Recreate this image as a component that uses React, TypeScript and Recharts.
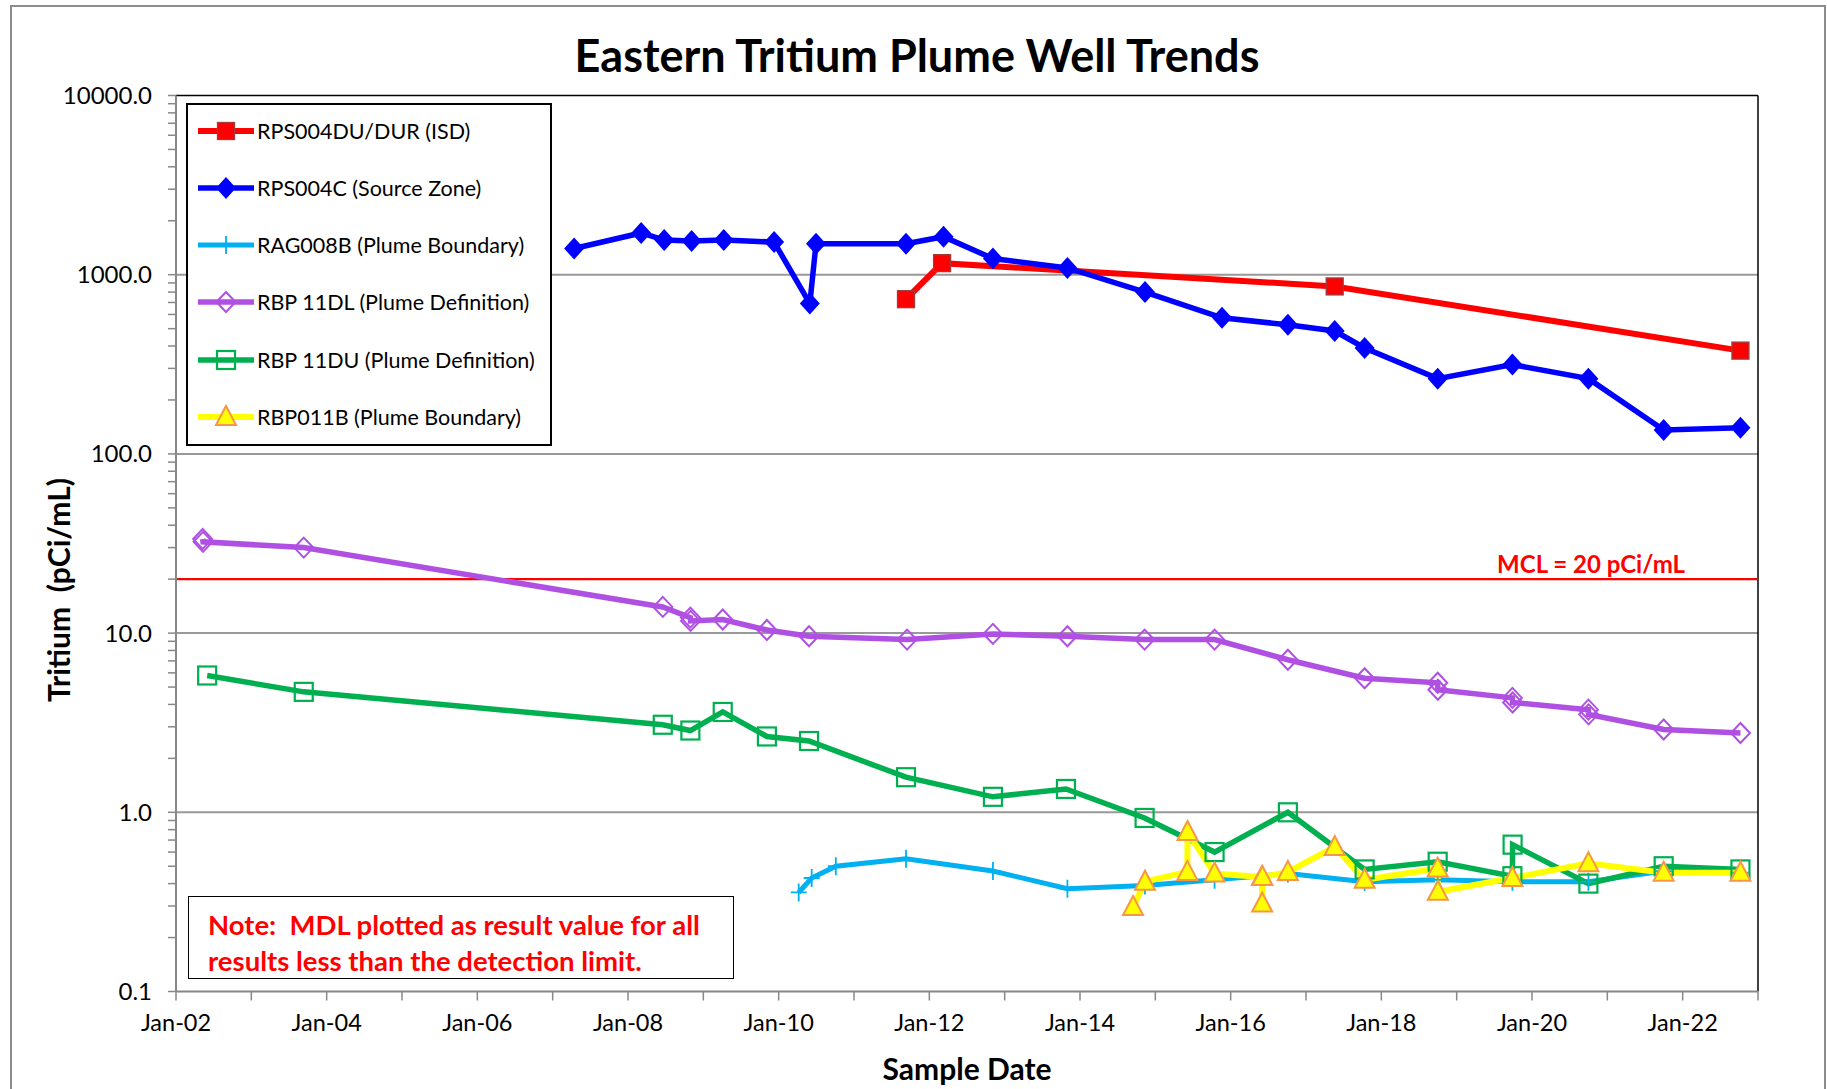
import React from 'react';
import { LineChart, Line, XAxis, YAxis, ReferenceLine } from 'recharts';

const FONT = 'Lato, "Open Sans", sans-serif';

// RPS004DU/DUR (ISD)
const isdDates = ['2011-09-10', '2012-03-03', '2017-05-20', '2022-10-08'];
const isdValues = [730, 1160, 860, 377];

// RPS004C (Source Zone)
const sourceDates = [
  '2007-04-15', '2008-03-05', '2008-06-25', '2008-11-05', '2009-04-10', '2009-12-10',
  '2010-06-01', '2010-07-01', '2011-09-10', '2012-03-10', '2012-11-05', '2013-11-01',
  '2014-11-12', '2015-11-20', '2016-10-05', '2017-05-20', '2017-10-12', '2018-10-01',
  '2019-09-28', '2020-10-01', '2021-10-01', '2022-10-08',
];
const sourceValues = [
  1400, 1710, 1560, 1540, 1560, 1520,
  690, 1490, 1490, 1630, 1230, 1090,
  800, 575, 525, 485, 390, 263,
  315, 263, 136, 140,
];

// RAG008B (Plume Boundary)
const ragDates = [
  '2010-04-08', '2010-06-10', '2010-10-05', '2011-09-10', '2012-11-05', '2013-11-01',
  '2014-11-12', '2015-10-15', '2016-10-05', '2017-10-12', '2018-10-01', '2019-09-28',
  '2020-10-01', '2021-10-01', '2022-10-08',
];
const ragValues = [0.357, 0.43, 0.5, 0.55, 0.47, 0.375, 0.39, 0.42, 0.455, 0.41, 0.42, 0.41, 0.41, 0.47, 0.46];

// RBP 11DL (Plume Definition)
const dlDates = [
  '2002-05-10', '2002-05-12', '2003-09-12', '2008-06-18', '2008-10-30', '2008-10-31',
  '2009-04-05', '2009-11-05', '2010-05-28', '2011-09-15', '2012-11-05', '2013-11-01',
  '2014-11-10', '2015-10-15', '2016-10-05', '2017-10-12', '2018-10-01', '2018-10-02',
  '2019-09-28', '2019-09-29', '2020-10-01', '2020-10-02', '2021-10-01', '2022-10-08',
];
const dlValues = [
  33.5, 32.3, 30.0, 14.0, 12.2, 11.7,
  11.9, 10.4, 9.6, 9.2, 9.9, 9.6,
  9.2, 9.2, 7.1, 5.6, 5.28, 4.83,
  4.35, 4.1, 3.74, 3.52, 2.9, 2.77,
];

// RBP 11DU (Plume Definition)
const duDates = [
  '2002-06-01', '2003-09-12', '2008-06-18', '2008-10-30', '2009-04-05', '2009-11-05',
  '2010-05-28', '2011-09-10', '2012-11-05', '2013-10-25', '2014-11-10', '2015-10-15',
  '2016-10-05', '2017-10-12', '2018-10-01', '2019-09-28', '2019-09-29', '2020-10-01',
  '2021-10-01', '2022-10-08',
];
const duValues = [
  5.8, 4.7, 3.08, 2.86, 3.63, 2.65,
  2.5, 1.57, 1.22, 1.35, 0.93, 0.6,
  1.0, 0.48, 0.53, 0.44, 0.66, 0.4,
  0.5, 0.48,
];

// RBP011B (Plume Boundary)
const bDates = [
  '2014-09-15', '2014-11-12', '2015-06-05', '2015-06-06', '2015-10-15', '2016-06-01',
  '2016-06-02', '2016-06-03', '2016-10-05', '2017-05-20', '2017-10-12', '2018-10-01',
  '2018-10-02', '2019-09-28', '2020-10-01', '2021-10-01', '2022-10-08',
];
const bValues = [
  0.296, 0.41, 0.465, 0.776, 0.455, 0.435,
  0.31, 0.435, 0.465, 0.64, 0.42, 0.485,
  0.36, 0.43, 0.52, 0.46, 0.46,
];

const xTickYears = [2002, 2003, 2004, 2005, 2006, 2007, 2008, 2009, 2010, 2011, 2012, 2013, 2014, 2015, 2016, 2017, 2018, 2019, 2020, 2021, 2022, 2023];
const yMajor = [0.1, 1, 10, 100, 1000, 10000];
const yTicks: number[] = [];
yMajor.slice(0, -1).forEach((d) => {
  for (let k = 1; k < 10; k++) yTicks.push(+(k * d).toPrecision(3));
});
yTicks.push(10000);

const toYear = (s: string) => {
  const [y, m, d] = s.split('-').map(Number);
  const t0 = Date.UTC(y, 0, 1);
  const t1 = Date.UTC(y + 1, 0, 1);
  return y + (Date.UTC(y, m - 1, d) - t0) / (t1 - t0);
};
const pts = (dates: string[], vals: number[]) => dates.map((d, i) => ({ x: toYear(d), v: vals[i] }));

type Mark = (cx: number, cy: number) => React.ReactElement;

const mSquareRed: Mark = (cx, cy) => (
  <rect x={cx - 8.5} y={cy - 8.5} width={17} height={17} fill="#FF0000" stroke="#A33B3B" strokeWidth={1.3} />
);
const mDiamondBlue: Mark = (cx, cy) => (
  <polygon points={`${cx},${cy - 11} ${cx + 10},${cy} ${cx},${cy + 11} ${cx - 10},${cy}`} fill="#0000FF" />
);
const mPlus: Mark = (cx, cy) => (
  <path d={`M${cx - 8},${cy}H${cx + 8}M${cx},${cy - 9}V${cy + 9}`} stroke="#00B0F0" strokeWidth={1.8} fill="none" />
);
const mDiamondOpen: Mark = (cx, cy) => (
  <polygon points={`${cx},${cy - 10} ${cx + 9.5},${cy} ${cx},${cy + 10} ${cx - 9.5},${cy}`} fill="none" stroke="#B050E3" strokeWidth={2} />
);
const mSquareOpen: Mark = (cx, cy) => (
  <rect x={cx - 9} y={cy - 9} width={18} height={18} fill="none" stroke="#00B050" strokeWidth={2.2} />
);
const mTriangle: Mark = (cx, cy) => (
  <polygon points={`${cx},${cy - 11} ${cx + 10},${cy + 8} ${cx - 10},${cy + 8}`} fill="#FFFF00" stroke="#F79646" strokeWidth={2} />
);

const series = [
  { name: 'RPS004DU/DUR (ISD)', data: pts(isdDates, isdValues), color: '#FF0000', width: 6, mark: mSquareRed },
  { name: 'RPS004C (Source Zone)', data: pts(sourceDates, sourceValues), color: '#0000FF', width: 5.5, mark: mDiamondBlue },
  { name: 'RAG008B (Plume Boundary)', data: pts(ragDates, ragValues), color: '#00B0F0', width: 5, mark: mPlus },
  { name: 'RBP 11DL (Plume Definition)', data: pts(dlDates, dlValues), color: '#B050E3', width: 5.5, mark: mDiamondOpen },
  { name: 'RBP 11DU (Plume Definition)', data: pts(duDates, duValues), color: '#00B050', width: 5.5, mark: mSquareOpen },
  { name: 'RBP011B (Plume Boundary)', data: pts(bDates, bValues), color: '#FFFF00', width: 6, mark: mTriangle },
];

const fmtX = (v: number) => (v % 2 === 0 && v < 2023 ? `Jan-${String(v).slice(2)}` : '');
const fmtY = (v: number) => {
  const l = Math.log10(v);
  return Math.abs(l - Math.round(l)) < 1e-6 ? v.toFixed(1) : '';
};

const mclLabel = (p: any) => {
  const vb = p.viewBox;
  return (
    <text x={vb.x + vb.width - 73} y={vb.y - 6} textAnchor="end" fill="#FF0000" fontWeight={700} fontSize={24} fontFamily={FONT}>
      MCL = 20 pCi/mL
    </text>
  );
};

export default function App() {
  return (
    <div style={{ position: 'absolute', left: 0, top: 0, width: 1827, height: 1089, overflow: 'hidden', background: '#fff', fontFamily: FONT }}>
      <div style={{ position: 'absolute', left: 10, top: 5, width: 1812, height: 1200, border: '2px solid #8c8c8c' }} />
      <div style={{ position: 'absolute', left: 0, width: 1834, top: 27.5, textAlign: 'center', fontSize: 45, fontWeight: 700, color: '#000' }}>
        Eastern Tritium Plume Well Trends
      </div>
      <div style={{ position: 'absolute', left: 0, top: 0 }}>
        <LineChart width={1827} height={1089} margin={{ top: 95.5, right: 69, bottom: 37.5, left: 0 }}>
          <XAxis
            type="number"
            dataKey="x"
            domain={[2002, 2023]}
            ticks={xTickYears}
            tickFormatter={fmtX}
            interval={0}
            allowDataOverflow
            height={60}
            axisLine={{ stroke: '#888', strokeWidth: 2 }}
            tickLine={{ stroke: '#888', strokeWidth: 1.5 }}
            tickSize={9}
            tickMargin={14}
            tick={{ fill: '#000', fontSize: 23.5, fontFamily: FONT }}
          />
          <YAxis
            type="number"
            scale="log"
            domain={[0.1, 10000]}
            ticks={yTicks}
            tickFormatter={fmtY}
            interval={0}
            allowDataOverflow
            width={176}
            axisLine={{ stroke: '#888', strokeWidth: 2 }}
            tickLine={{ stroke: '#888', strokeWidth: 1.5 }}
            tickSize={8}
            tickMargin={16}
            tick={{ fill: '#000', fontSize: 24, fontFamily: FONT }}
          />
          {[1, 10, 100, 1000].map((g) => (
            <ReferenceLine key={g} y={g} stroke="#999" strokeWidth={2} />
          ))}
          <ReferenceLine y={10000} stroke="#000" strokeWidth={1.5} />
          <ReferenceLine x={2023} stroke="#000" strokeWidth={1.5} />
          <ReferenceLine y={20} stroke="#FF0000" strokeWidth={2.2} label={mclLabel} />
          {series.map((s) => (
            <Line
              key={s.name}
              data={s.data}
              dataKey="v"
              name={s.name}
              type="linear"
              stroke={s.color}
              strokeWidth={s.width}
              dot={(p: any) => <g key={`${s.name}-${p.index}`}>{s.mark(p.cx, p.cy)}</g>}
              activeDot={false}
              isAnimationActive={false}
            />
          ))}
        </LineChart>
      </div>
      <div style={{ position: 'absolute', left: 58, top: 590, transform: 'translate(-50%, -50%) rotate(-90deg)', whiteSpace: 'pre', fontSize: 30, fontWeight: 700 }}>
        {'Tritium  (pCi/mL)'}
      </div>
      <div style={{ position: 'absolute', left: 967, top: 1068, transform: 'translate(-50%, -50%)', whiteSpace: 'nowrap', fontSize: 30, fontWeight: 700 }}>
        Sample Date
      </div>
      <div style={{ position: 'absolute', left: 186, top: 102.5, width: 362, height: 339, border: '2px solid #000', background: '#fff' }}>
        {series.map((s, i) => (
          <div key={s.name} style={{ position: 'absolute', left: 8, top: 26 + i * 57.3 - 16, height: 32, display: 'flex', alignItems: 'center', whiteSpace: 'nowrap' }}>
            <svg width={60} height={32}>
              <line x1={2} y1={16} x2={58} y2={16} stroke={s.color} strokeWidth={s.width} />
              {s.mark(30, 16)}
            </svg>
            <span style={{ fontSize: 21.5, marginLeft: 1, color: '#000' }}>{s.name}</span>
          </div>
        ))}
      </div>
      <div style={{ position: 'absolute', left: 188, top: 896, width: 544, height: 81, border: '1.5px solid #000', background: '#fff' }}>
        <div style={{ position: 'absolute', left: 19, top: 10, color: '#FF0000', fontWeight: 700, fontSize: 27.5, lineHeight: '36px', whiteSpace: 'nowrap' }}>
          Note:&nbsp; MDL plotted as result value for all
          <br />
          results less than the detection limit.
        </div>
      </div>
    </div>
  );
}
